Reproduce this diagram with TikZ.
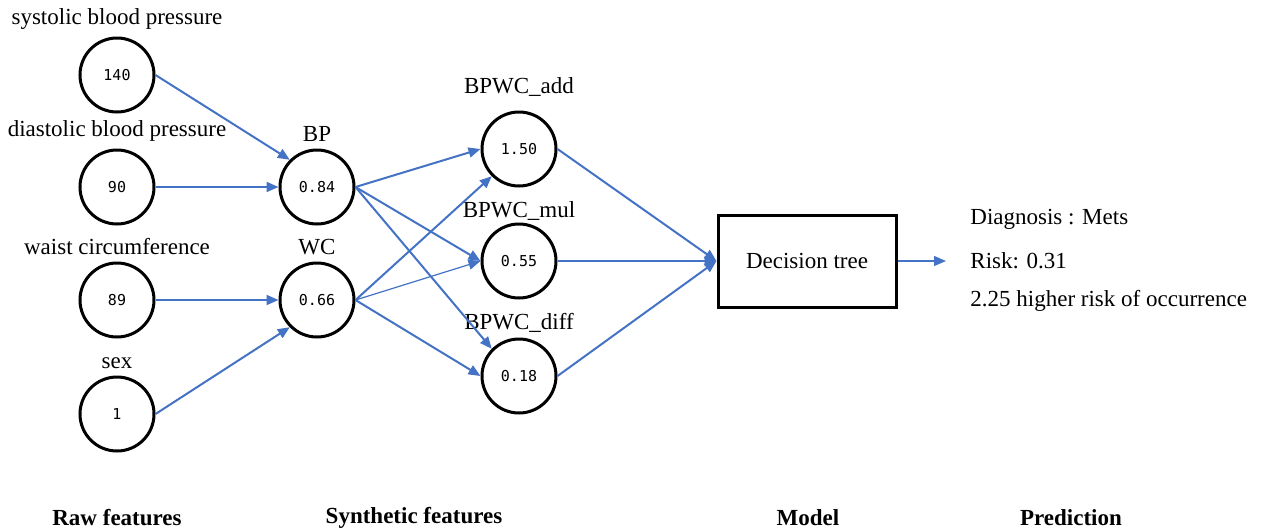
\documentclass[tikz,border=0pt]{standalone}
\usepackage{fontspec}
\setmainfont{Liberation Serif}
\setmonofont{DejaVu Sans Mono}
\usetikzlibrary{arrows.meta}
\definecolor{linkblue}{RGB}{68,114,196}

\begin{document}
\begin{tikzpicture}
    [
    x=0.5pt, y=-0.5pt,
    font=\fontsize{11.5}{14}\selectfont,
    feat/.style={circle,draw,line width=1.5pt,minimum size=37pt,inner sep=0pt,font=\ttfamily\fontsize{7.5}{8}\selectfont},
    every label/.style={font=\rmfamily\fontsize{11.5}{14}\selectfont},
    model/.style={rectangle,draw,line width=1.5pt,minimum width=89pt,minimum height=46pt},
    link/.style={draw=linkblue,line width=1pt,-{Triangle[length=6pt,width=5pt]}},
    note/.style={anchor=west,inner sep=0pt},
    stage/.style={font=\bfseries\fontsize{11.5}{14}\selectfont}
    ]
    \useasboundingbox (0,0) rectangle (1263,531);

    % raw features
    \node (sbp) at (117,75) [feat, label={above:systolic blood pressure}] {140};
    \node (dbp) at (117,187) [feat, label={above:diastolic blood pressure}] {90};
    \node (waist) at (117,300) [feat, label={above:waist circumference}] {89};
    \node (sex) at (117,414) [feat, label={above:sex}] {1};

    % synthetic features
    \node (bp) at (317,187) [feat, label={above:BP}] {0.84};
    \node (wc) at (317,300) [feat, label={above:WC}] {0.66};
    \node (add) at (519,149) [feat, label={[yshift=3.5pt]above:BPWC\_add}] {1.50};
    \node (mul) at (519,261) [feat, label={[yshift=-2.5pt]above:BPWC\_mul}] {0.55};
    \node (diff) at (519,376) [feat, label={[yshift=-1pt]above:BPWC\_diff}] {0.18};

    % model and prediction
    \node (tree) at (807,261) [model] {Decision tree};
    \coordinate (out) at (946,261);
    \node (diag) at (970,219) [note] {Diagnosis : Mets};
    \node (risk) at (970,261) [note] {Risk: 0.31};
    \node (ratio) at (970,301) [note] {2.25 higher risk of occurrence};

    \draw [link] (sbp.east) to (bp.north west);
    \draw [link] (dbp.east) to (bp.west);
    \draw [link] (waist.east) to (wc.west);
    \draw [link] (sex.east) to (wc.south west);

    \draw [link] (bp.east) to (add.west);
    \draw [link] (bp.east) to (mul.west);
    \draw [link] (bp.east) to (diff.north west);
    \draw [link] (wc.east) to (add.south west);
    \draw [link, line width=0.6pt] (wc.east) to (mul.west);
    \draw [link] (wc.east) to (diff.west);

    \draw [link] (add.east) to (tree.west);
    \draw [link] (mul.east) to (tree.west);
    \draw [link] (diff.east) to (tree.west);
    \draw [link, line width=0.6pt] (tree.east) to (out);

    % stage captions
    \node (raw) at (117,518) [stage] {Raw features};
    \node (syn) at (414,518) [stage] {Synthetic features};
    \node (mdl) at (808,518) [stage] {Model};
    \node (pre) at (1071,518) [stage] {Prediction};
\end{tikzpicture}
\end{document}
